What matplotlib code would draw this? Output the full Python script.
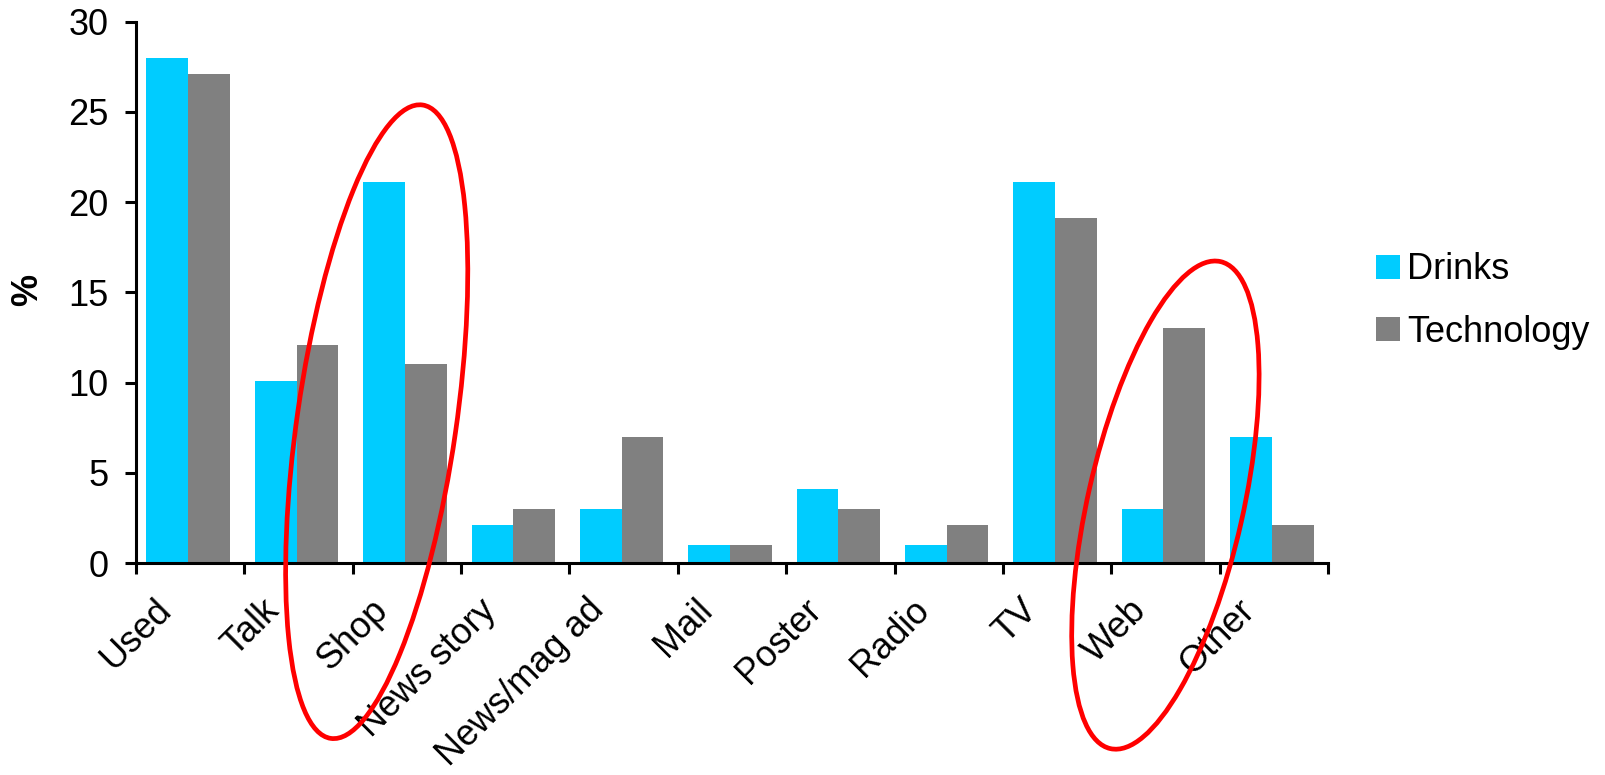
import numpy as np
import matplotlib
matplotlib.use("Agg")
import matplotlib.pyplot as plt
import matplotlib.transforms as mtransforms
from matplotlib.patches import Ellipse

plt.rcParams['font.family'] = ['Liberation Sans', 'DejaVu Sans']

categories = ['Used', 'Talk', 'Shop', 'News story', 'News/mag ad', 'Mail',
              'Poster', 'Radio', 'TV', 'Web', 'Other']
drinks = [28.0, 10.1, 21.1, 2.1, 3.0, 1.0, 4.1, 1.0, 21.1, 3.0, 7.0]
technology = [27.1, 12.1, 11.0, 3.0, 7.0, 1.0, 3.0, 2.1, 19.1, 13.0, 2.1]
yticks = [0, 5, 10, 15, 20, 25, 30]

fig = plt.figure(figsize=(16.05, 7.75), dpi=100)
ax = fig.add_axes([0.0847, 0.2735, 0.7427, 0.6987])

x = np.arange(len(categories)) + 0.5
w = 0.385
ax.bar(x - w / 2 - 0.018, drinks, w, color='#00CCFF', label='Drinks')
ax.bar(x + w / 2 - 0.018, technology, w, color='#808080', label='Technology')

ax.set_xlim(0, len(categories))
ax.set_ylim(0, 30)
ax.set_yticks(yticks)
ax.set_xticks(np.arange(len(categories) + 1))
ax.set_xticklabels([])
ax.set_xticks(x, minor=True)
ax.set_xticklabels(categories, minor=True, rotation=45, ha='right',
                   rotation_mode='anchor', fontsize=26)
ax.tick_params(axis='x', which='minor', length=0, pad=14)
ax.tick_params(axis='x', which='major', length=8, width=2.2, direction='out')
ax.tick_params(axis='y', length=8, width=2.2, direction='out', labelsize=26, pad=12)

# shift the rotated labels like the original (down and to the left)
shift = mtransforms.ScaledTranslation(-0.37, -0.10, fig.dpi_scale_trans)
for lab in ax.get_xticklabels(minor=True):
    lab.set_transform(lab.get_transform() + shift)

for s in ['top', 'right']:
    ax.spines[s].set_visible(False)
for s in ['left', 'bottom']:
    ax.spines[s].set_linewidth(2.2)

ax.set_ylabel('%', fontsize=26, fontweight='bold')
ax.yaxis.set_label_coords(-0.076, 0.505)

fig.legend(loc='center left', bbox_to_anchor=(1376 / 1605, 1 - 301 / 775),
           frameon=False, fontsize=26, handlelength=0.66, handleheight=0.64,
           handletextpad=0.2, labelspacing=0.76, borderpad=0, borderaxespad=0)

# red ellipses drawn on an overlay in pixel units
ov = fig.add_axes([0, 0, 1, 1])
ov.set_xlim(0, 1605)
ov.set_ylim(775, 0)
ov.axis('off')
ov.add_patch(Ellipse((376.7, 421.7), 159, 640, angle=8.24,
                     fill=False, edgecolor='#FF0000', lw=3.4))
ov.add_patch(Ellipse((1165.4, 505.1), 155.4, 499.3, angle=12.75,
                     fill=False, edgecolor='#FF0000', lw=3.4))

fig.savefig('out.png', dpi=100)
